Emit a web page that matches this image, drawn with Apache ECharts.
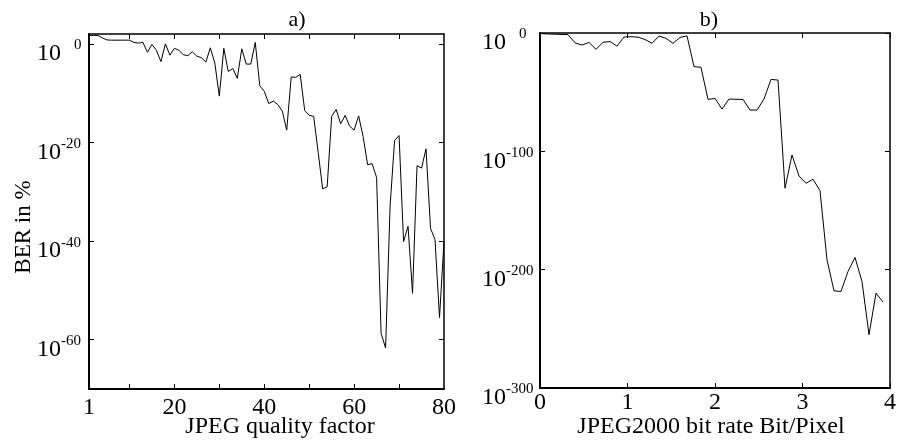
<!DOCTYPE html>
<html><head><meta charset="utf-8">
<script src="https://cdn.jsdelivr.net/npm/echarts@6/dist/echarts.min.js"></script>
<style>html,body{margin:0;padding:0;background:#fff}#c{width:899px;height:441px}</style>
</head><body><div id="c"></div>
<script>
// a) JPEG quality factor vs log10(BER in %)
const jpegQuality = [1,2,3,4,5,6,7,8,9,10,11,12,13,14,15,16,17,18,19,20,21,22,23,24,25,26,27,28,29,30,31,32,33,34,35,36,37,38,39,40,41,42,43,44,45,46,47,48,49,50,51,52,53,54,55,56,57,58,59,60,61,62,63,64,65,66,67,68,69,70,71,72,73,74,75,76,77,78,79,80];
const jpegBerExp = [1.7,1.7,1.7,1.2,0.8,0.75,0.75,0.75,0.75,0.75,0.3,0.15,0.3,-1.7,-0.1,-1.3,-3.6,0.0,-2.3,-0.9,-1.3,-2.2,-2.4,-1.6,-2.5,-2.8,-3.7,-0.8,-3.9,-10.6,-0.9,-5.6,-5.0,-7.0,-1.0,-4.1,-4.1,0.3,-8.5,-9.6,-12.1,-11.6,-12.3,-13.6,-17.5,-6.7,-6.8,-6.2,-13.5,-14.5,-14.7,-22.0,-29.4,-29.0,-14.7,-13.3,-16.2,-14.5,-16.7,-17.5,-14.6,-18.8,-24.5,-24.3,-27.1,-58.7,-61.7,-33.0,-19.6,-18.6,-40.1,-37.0,-50.6,-24.7,-25.2,-21.3,-37.4,-39.7,-55.5,-40.1];
// b) JPEG2000 bit rate vs log10(BER in %)
const j2kBitRate = [0,0.08,0.16,0.24,0.32,0.40,0.48,0.56,0.64,0.72,0.80,0.88,0.96,1.04,1.12,1.20,1.28,1.36,1.44,1.52,1.60,1.68,1.76,1.84,1.92,2.00,2.08,2.16,2.24,2.32,2.40,2.48,2.56,2.64,2.72,2.80,2.88,2.96,3.04,3.12,3.20,3.28,3.36,3.44,3.52,3.60,3.68,3.76,3.84,3.92];
const j2kBerExp = [-0.4,-0.8,-1.0,-1.2,-1.4,-8.3,-10.2,-8.0,-13.8,-7.8,-7.2,-11.1,-3.4,-3.1,-3.5,-5.5,-8.7,-2.6,-4.5,-8.7,-3.8,-2.4,-28.4,-29.0,-56.1,-55.3,-64.3,-55.8,-56.0,-56.1,-65.1,-65.1,-55.8,-39.2,-39.8,-131.2,-103.1,-120.8,-127.0,-123.6,-133.2,-191.7,-217.9,-218.4,-201.5,-189.7,-210.0,-255.0,-219.8,-227.4];

const leftXLabels = [1,20,40,60,80];
const leftXTicks = [10,20,30,40,50,60,70];
const leftYTicks = [0,-20,-40,-60];
const rightXTicks = [0,1,2,3,4];
const rightYTicks = [0,-100,-200,-300];

const FONT = '"Liberation Serif", "Times New Roman", serif';
const chart = echarts.init(document.getElementById('c'));

function pairs(xs, ys){ return xs.map((x,i)=>[x, ys[i]]); }
function yFmt(v){ return v === 0 ? '{b|10}{z|0}' : '{b|10}{s|' + v + '}'; }
const richY = {
  b:{fontSize:24, lineHeight:28, verticalAlign:'bottom', fontFamily:FONT, color:'#000'},
  s:{fontSize:15, lineHeight:15, verticalAlign:'top', fontFamily:FONT, color:'#000'},
  z:{fontSize:15, lineHeight:15, verticalAlign:'top', padding:[0,0,0,13], fontFamily:FONT, color:'#000'}
};
const lineMain = {show:true, onZero:false, lineStyle:{color:'#000', width:2}};
const lineSec = {show:true, onZero:false, lineStyle:{color:'#000', width:1.5}};
const tick = vals => ({show:true, inside:true, length:5, customValues:vals, lineStyle:{color:'#000', width:1}});

const option = {
  animation:false,
  backgroundColor:'#fff',
  grid:[
    {left:89, top:34, width:355, height:355},
    {left:540, top:33, width:356, height:355}
  ],
  xAxis:[
    {gridIndex:0, type:'value', position:'bottom', min:1, max:80, axisLine:lineMain, axisTick:tick(leftXTicks),
     axisLabel:{customValues:leftXLabels, margin:7, fontSize:24, fontFamily:FONT, color:'#000'}, splitLine:{show:false}},
    {gridIndex:0, type:'value', position:'top', min:1, max:80, axisLine:lineSec, axisTick:tick(leftXTicks),
     axisLabel:{show:false}, splitLine:{show:false}},
    {gridIndex:1, type:'value', position:'bottom', min:0, max:4, interval:1, axisLine:lineMain, axisTick:tick(rightXTicks),
     axisLabel:{customValues:rightXTicks, margin:3, fontSize:24, fontFamily:FONT, color:'#000'}, splitLine:{show:false}},
    {gridIndex:1, type:'value', position:'top', min:0, max:4, interval:1, axisLine:lineSec, axisTick:tick(rightXTicks),
     axisLabel:{show:false}, splitLine:{show:false}}
  ],
  yAxis:[
    {gridIndex:0, type:'value', position:'left', min:-70, max:2, axisLine:lineMain, axisTick:tick(leftYTicks),
     axisLabel:{customValues:leftYTicks, formatter:yFmt, rich:richY, align:'left', margin:52, padding:[16,0,0,0], verticalAlign:'middle'},
     splitLine:{show:false}},
    {gridIndex:0, type:'value', position:'right', min:-70, max:2, axisLine:lineSec, axisTick:tick(leftYTicks),
     axisLabel:{show:false}, splitLine:{show:false}},
    {gridIndex:1, type:'value', position:'left', min:-300, max:0, axisLine:lineMain, axisTick:tick(rightYTicks),
     axisLabel:{customValues:rightYTicks, formatter:yFmt, rich:richY, align:'left', margin:58, padding:[16,0,0,0], verticalAlign:'middle'},
     splitLine:{show:false}},
    {gridIndex:1, type:'value', position:'right', min:-300, max:0, axisLine:lineSec, axisTick:tick(rightYTicks),
     axisLabel:{show:false}, splitLine:{show:false}}
  ],
  series:[
    {type:'line', xAxisIndex:0, yAxisIndex:0, data:pairs(jpegQuality, jpegBerExp), showSymbol:false, symbol:'none',
     lineStyle:{color:'#000', width:1}},
    {type:'line', xAxisIndex:2, yAxisIndex:2, data:pairs(j2kBitRate, j2kBerExp), showSymbol:false, symbol:'none',
     lineStyle:{color:'#000', width:1}}
  ],
  graphic:[
    {type:'text', x:297, y:20, style:{text:'a)', font:'22px ' + FONT, fill:'#000', align:'center', verticalAlign:'middle', textAlign:'center', textVerticalAlign:'middle'}},
    {type:'text', x:709, y:20, style:{text:'b)', font:'22px ' + FONT, fill:'#000', align:'center', verticalAlign:'middle', textAlign:'center', textVerticalAlign:'middle'}},
    {type:'text', x:280, y:427, style:{text:'JPEG quality factor', font:'24px ' + FONT, fill:'#000', align:'center', verticalAlign:'middle', textAlign:'center', textVerticalAlign:'middle'}},
    {type:'text', x:711, y:427, style:{text:'JPEG2000 bit rate Bit/Pixel', font:'24px ' + FONT, fill:'#000', align:'center', verticalAlign:'middle', textAlign:'center', textVerticalAlign:'middle'}},
    {type:'text', x:24, y:227, rotation:Math.PI/2, style:{text:'BER in %', font:'23px ' + FONT, fill:'#000', align:'center', verticalAlign:'middle', textAlign:'center', textVerticalAlign:'middle'}}
  ]
};
chart.setOption(option);
</script></body></html>
